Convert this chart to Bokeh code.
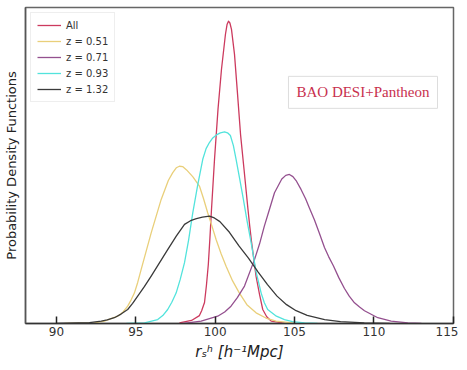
from bokeh.plotting import figure
from bokeh.models import Range1d, FixedTicker, Legend, LegendItem, Label
from bokeh.embed import file_html
from bokeh.resources import INLINE

# ---- data (x = r_s^h, y = PDF, normalised to peak of "All") ----
all_x = [97.75, 98.51, 99.01, 99.15, 99.33, 99.45, 99.57, 99.67, 99.77, 99.96, 100.18, 100.40,
         100.65, 100.75, 100.84, 100.93, 101.03, 101.22, 101.41, 101.60, 101.82, 102.07, 102.18,
         102.29, 102.58, 102.80, 103.00, 103.25, 103.53, 104.37]
all_y = [0.002, 0.010, 0.026, 0.042, 0.069, 0.125, 0.194, 0.280, 0.375, 0.539, 0.704, 0.836,
         0.951, 0.983, 0.994, 0.988, 0.967, 0.885, 0.755, 0.622, 0.507, 0.375, 0.320,
         0.270, 0.155, 0.095, 0.046, 0.022, 0.008, 0.001]

z051_x = [90.5, 92.39, 93.02, 93.86, 94.20, 94.49, 94.70, 94.91, 95.12, 95.34, 95.97, 96.60,
          97.05, 97.33, 97.55, 97.75, 97.95, 98.20, 98.60, 99.01, 99.27, 99.53, 99.80, 100.06,
          100.37, 100.69, 101.10, 101.53, 102.00, 102.58, 103.20, 103.84, 105.0]
z051_y = [0.0, 0.002, 0.008, 0.024, 0.038, 0.057, 0.077, 0.100, 0.135, 0.178, 0.298, 0.408,
          0.470, 0.496, 0.512, 0.517, 0.516, 0.505, 0.482, 0.452, 0.410, 0.364, 0.320, 0.276,
          0.230, 0.188, 0.140, 0.100, 0.062, 0.035, 0.018, 0.008, 0.001]

z071_x = [98.0, 99.12, 100.16, 100.60, 101.0, 101.40, 101.85, 102.48, 102.80, 103.10, 103.42,
          103.74, 104.20, 104.45, 104.68, 104.90, 105.10, 105.42, 105.70, 105.94, 106.26, 106.58,
          106.89, 107.15, 107.45, 107.80, 108.15, 108.45, 108.78, 109.10, 109.41, 110.25,
          111.09, 112.14, 113.0]
z071_y = [0.0, 0.008, 0.024, 0.038, 0.057, 0.085, 0.123, 0.210, 0.262, 0.320, 0.375,
          0.430, 0.475, 0.487, 0.490, 0.483, 0.470, 0.440, 0.410, 0.380, 0.340, 0.295,
          0.250, 0.220, 0.190, 0.150, 0.115, 0.090, 0.068, 0.054, 0.042, 0.019,
          0.008, 0.002, 0.0]

z093_x = [94.41, 95.55, 96.38, 96.70, 97.01, 97.27, 97.54, 97.80, 98.07, 98.33, 98.59, 98.90,
          99.22, 99.43, 99.64, 99.85, 100.08, 100.33, 100.59, 100.78, 100.96, 101.15, 101.32,
          101.55, 101.78, 102.02, 102.27, 102.58, 102.90, 103.10, 103.31, 103.86, 104.37,
          104.87, 105.63, 106.45]
z093_y = [0.0, 0.002, 0.013, 0.026, 0.046, 0.070, 0.100, 0.145, 0.200, 0.275, 0.364, 0.455,
          0.540, 0.575, 0.595, 0.610, 0.620, 0.627, 0.630, 0.627, 0.618, 0.585, 0.540,
          0.475, 0.408, 0.335, 0.265, 0.170, 0.100, 0.068, 0.046, 0.024, 0.013,
          0.006, 0.002, 0.0]

z132_x = [90.0, 92.08, 92.82, 93.20, 93.65, 94.07, 94.49, 94.80, 95.12, 95.55, 95.97, 96.50,
          97.01, 97.55, 98.07, 98.45, 98.82, 99.20, 99.64, 99.95, 100.30, 100.90, 101.50,
          102.10, 102.70, 103.30, 103.90, 104.50, 105.10, 105.80, 106.90, 107.90, 109.40, 111.0]
z132_y = [0.0, 0.003, 0.008, 0.012, 0.019, 0.031, 0.046, 0.066, 0.090, 0.122, 0.156, 0.200,
          0.243, 0.287, 0.326, 0.338, 0.345, 0.350, 0.353, 0.347, 0.335, 0.300, 0.255,
          0.215, 0.170, 0.128, 0.090, 0.062, 0.042, 0.027, 0.013, 0.006, 0.002, 0.0]

labels = ["All", "z = 0.51", "z = 0.71", "z = 0.93", "z = 1.32"]
colors = ["#cc3a5e", "#e9cf7a", "#94508f", "#52e3dc", "#3a3a3a"]
x_ticks = [90, 95, 100, 105, 110, 115]

p = figure(frame_width=428, frame_height=316, output_backend="svg", toolbar_location=None,
           x_range=Range1d(88.05, 115.02), y_range=Range1d(0, 1.039),
           min_border_left=24, min_border_right=5, min_border_top=7, min_border_bottom=0)

p.background_fill_color = "white"
p.border_fill_color = "white"
p.xgrid.visible = False
p.ygrid.visible = False
p.outline_line_color = "#666666"
p.outline_line_width = 1.5

series = [(all_x, all_y), (z051_x, z051_y), (z071_x, z071_y), (z093_x, z093_y), (z132_x, z132_y)]
renderers = []
for (xs, ys), c in zip(series, colors):
    r = p.line(xs, ys, line_color=c, line_width=1.3, line_join="round")
    renderers.append(r)

# x axis
p.xaxis.ticker = FixedTicker(ticks=x_ticks)
p.xaxis.major_tick_in = 7
p.xaxis.major_tick_out = 0
p.xaxis.minor_tick_line_color = None
p.xaxis.major_tick_line_color = "#222222"
p.xaxis.major_tick_line_width = 1.5
p.xaxis.axis_line_color = "#333333"
p.xaxis.axis_line_width = 1.5
p.xaxis.major_label_text_font = "DejaVu Sans"
p.xaxis.major_label_text_font_size = "12px"
p.xaxis.major_label_text_color = "#333333"
p.xaxis.major_label_standoff = 3
p.xaxis.axis_label = "rₛʰ [h⁻¹Mpc]"
p.xaxis.axis_label_text_font = "DejaVu Sans"
p.xaxis.axis_label_text_font_style = "italic"
p.xaxis.axis_label_text_font_size = "15px"
p.xaxis.axis_label_text_color = "#222222"
p.xaxis.axis_label_standoff = 4

# y axis
p.yaxis.ticker = FixedTicker(ticks=[])
p.yaxis.major_tick_line_color = None
p.yaxis.minor_tick_line_color = None
p.yaxis.axis_line_color = "#555555"
p.yaxis.axis_line_width = 1.5
p.yaxis.major_label_standoff = 0
p.yaxis.axis_label = "Probability Density Functions"
p.yaxis.axis_label_text_font = "DejaVu Sans"
p.yaxis.axis_label_text_font_style = "normal"
p.yaxis.axis_label_text_font_size = "13px"
p.yaxis.axis_label_text_color = "#222222"
p.yaxis.axis_label_standoff = 7

legend = Legend(items=[LegendItem(label=l, renderers=[r]) for l, r in zip(labels, renderers)],
                location="top_left")
legend.label_text_font = "DejaVu Sans"
legend.label_text_font_size = "10px"
legend.label_text_color = "#333333"
legend.label_height = 12
legend.glyph_height = 12
legend.glyph_width = 24
legend.spacing = 4
legend.padding = 6
legend.margin = 5
legend.border_line_color = "#dddddd"
legend.background_fill_alpha = 1.0
p.add_layout(legend)

box = Label(x=104.62, y=0.76, text="BAO DESI+Pantheon", text_font="Liberation Serif",
            text_font_size="15px", text_color="#c8304e", text_baseline="middle",
            border_line_color="#dddddd", background_fill_color="white", padding=8)
p.add_layout(box)

open("out.html", "w").write(file_html(p, INLINE))
